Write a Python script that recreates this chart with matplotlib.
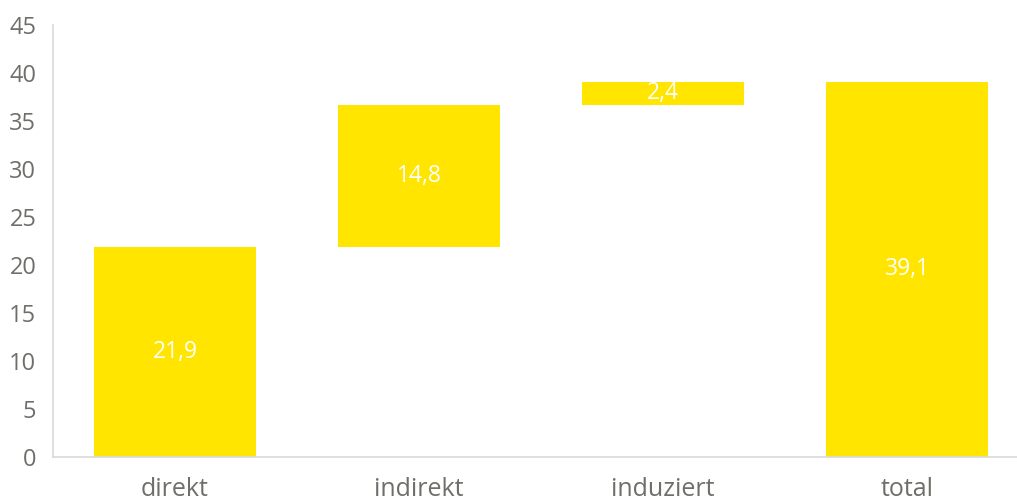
import numpy as np
import matplotlib.pyplot as plt

plt.rcParams['font.family'] = ['Open Sans', 'DejaVu Sans']

categories = ["direkt", "indirekt", "induziert", "total"]
values = [21.9, 14.8, 2.4, 39.1]
bottoms = [0, 21.9, 36.7, 0]
labels = ["21,9", "14,8", "2,4", "39,1"]

yellow = "#FFE500"
grey = "#6f6f6a"

fig = plt.figure(figsize=(10.17, 5.03), dpi=100)
ax = fig.add_axes([53/1017, (503-457)/503, (1017-53)/1017, (457-25)/503])

x = np.arange(len(categories))
bars = ax.bar(x, values, bottom=bottoms, width=0.668, color=yellow)
for b, lab in zip(bars, labels):
    ax.text(b.get_x() + b.get_width()/2, b.get_y() + b.get_height()/2, lab,
            ha="center", va="center", color="white", fontsize=16.5)

ax.set_xlim(-0.5, -0.5 + 964/244)
ax.set_ylim(0, 45)
ax.set_yticks(np.arange(0, 46, 5))
ax.set_xticks(x)
ax.set_xticklabels(categories)
ax.tick_params(axis="both", length=0, labelcolor=grey)
ax.tick_params(axis="x", pad=14.5, labelsize=18)
ax.tick_params(axis="y", pad=12, labelsize=17)
for s in ["top", "right"]:
    ax.spines[s].set_visible(False)
for s in ["left", "bottom"]:
    ax.spines[s].set_color("#d9d9d9")
    ax.spines[s].set_linewidth(1.2)

fig.savefig("out.png", dpi=100)
